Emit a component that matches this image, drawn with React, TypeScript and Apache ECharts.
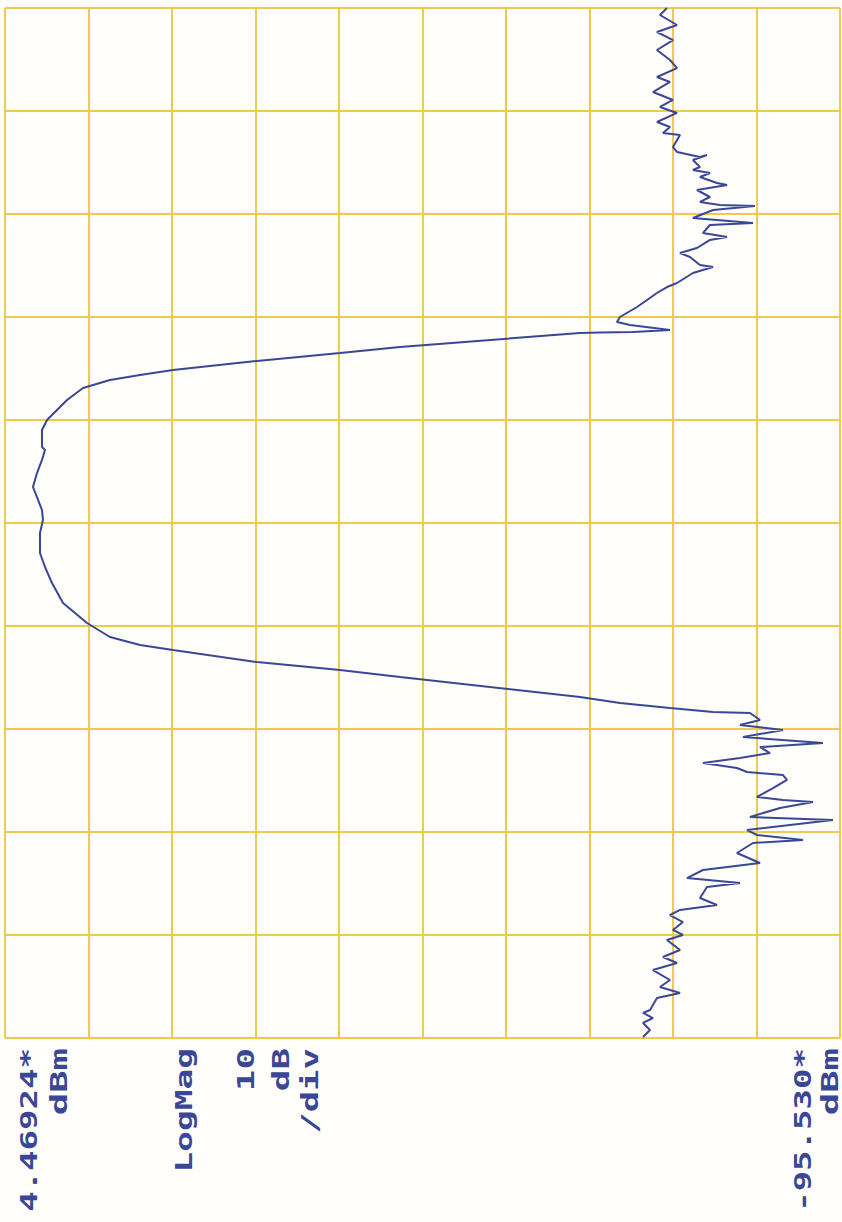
import React, { useEffect, useRef } from "react";
import * as echarts from "echarts";

// Reference level (left edge) and scale
const REF_DBM = 4.46924;
const DB_PER_DIV = 10;
const FREQ_DIVS = 10;

// Trace: frequency position in divisions (0 = bottom, 10 = top) and magnitude in dBm
const freqDiv = [
  10.0, 9.932, 9.835, 9.767, 9.689, 9.592, 9.495, 9.417, 9.33, 9.282, 9.184, 9.107, 9.039, 8.981, 8.893, 8.845,
  8.786, 8.767, 8.65, 8.602, 8.553, 8.573, 8.524, 8.456, 8.427, 8.398, 8.359, 8.301, 8.282, 8.233, 8.165, 8.117,
  8.087, 8.078, 8.039, 7.961, 7.913, 7.893, 7.816, 7.777, 7.748, 7.67, 7.621, 7.583, 7.505, 7.485, 7.427, 7.33,
  7.291, 7.233, 7.165, 7.097, 7.0, 6.951, 6.922, 6.874, 6.854, 6.85, 6.845, 6.709, 6.65, 6.573,
  6.485, 6.437, 6.388, 6.311, 6.194, 6.097, 6.0, 5.903, 5.738, 5.709, 5.612, 5.485, 5.35, 5.252, 5.126, 5.029,
  4.903, 4.709, 4.573, 4.417, 4.223, 4.029, 3.893, 3.816, 3.767,
  3.65, 3.573, 3.505, 3.311, 3.252, 3.204, 3.165, 3.155, 3.087, 3.039, 2.99, 2.922, 2.864, 2.825, 2.767, 2.718, 2.67,
  2.621, 2.583, 2.553, 2.505, 2.427, 2.34, 2.311, 2.291, 2.233, 2.146, 2.117, 2.019, 1.971, 1.922, 1.893, 1.796,
  1.699, 1.631, 1.553, 1.505, 1.466, 1.359, 1.291, 1.243, 1.194, 1.126, 1.049, 1.0, 0.951, 0.854, 0.786, 0.728,
  0.66, 0.563, 0.495, 0.437, 0.388, 0.272, 0.243, 0.194, 0.146, 0.078, 0.01,
];
const magDbm = [
  -74.81, -73.97, -76.01, -73.61, -75.53, -73.61, -75.17, -76.01, -73.61, -75.17, -73.13, -75.53, -73.97, -76.01, -73.61, -75.17,
  -74.33, -76.37, -75.53, -76.01, -78.76, -79.6, -77.92, -78.76, -77.92, -79.96, -78.76, -80.8, -82.0, -78.4, -79.96, -78.76,
  -81.16, -85.35, -80.32, -77.92, -85.11, -79.96, -79.12, -82.0, -79.96, -78.4, -76.37, -77.57, -78.76, -80.32, -77.92, -76.01,
  -74.81, -73.61, -72.42, -71.22, -69.18, -68.82, -70.38, -75.17, -70.74, -66.79, -64.39, -42.84, -35.65, -25.71,
  -15.65, -11.7, -8.1, -4.87, -2.96, -1.76, -0.56, 0.04, 0.04, -0.32, 0.04, 0.64, 1.12, 0.64, 0.04, -0.08,
  0.28, 0.28, -0.32, -1.16, -2.48, -5.35, -8.1, -11.7, -15.65,
  -25.71, -35.65, -42.84, -64.39, -69.18, -75.17, -80.32, -84.75, -85.95, -83.55, -88.7, -83.91, -93.49, -85.95, -87.15, -83.55, -79.12,
  -83.19, -84.39, -88.7, -89.18, -87.51, -85.59, -88.7, -92.3, -88.35, -84.75, -94.69, -84.39, -85.59, -91.1, -85.11, -83.19,
  -85.95, -79.12, -77.21, -83.55, -79.6, -78.76, -80.8, -76.37, -75.17, -76.72, -75.53, -76.72, -74.81, -76.37, -74.33, -76.01,
  -73.13, -75.17, -73.97, -76.37, -73.61, -72.78, -71.94, -73.13, -71.94, -72.78, -71.94,
];

// Annotation texts (plotter labels)
const refLabel = "4.46924*";
const bottomLabel = "-95.530*";
const unitLabel = "dBm";
const formatLabel = "LogMag";
const scaleLabels = ["10", "dB", "/div"];

const PEN = "#3a4796";
const GRID = "#eecb4e";

export default function App() {
  const ref = useRef<HTMLDivElement>(null);

  useEffect(() => {
    if (!ref.current) return;
    const chart = echarts.init(ref.current, null, { renderer: "svg" });
    const data = freqDiv.map((f, i) => [magDbm[i], f]);

    const label = (t: string, x: number, sx: number) => ({
      type: "text",
      x,
      y: 1048,
      rotation: Math.PI / 2,
      scaleX: sx,
      scaleY: 1,
      style: {
        text: t,
        fill: PEN,
        font: "bold 23px 'DejaVu Sans Mono'",
        align: "right",
        verticalAlign: "middle",
      },
    });

    chart.setOption({
      animation: false,
      backgroundColor: "#fffefa",
      grid: { left: 5, right: 2, top: 8, bottom: 184 },
      xAxis: {
        type: "value",
        inverse: true,
        min: REF_DBM - DB_PER_DIV * 10,
        max: REF_DBM,
        interval: DB_PER_DIV,
        axisLabel: { show: false },
        axisTick: { show: false },
        axisLine: { show: false },
        splitLine: { show: true, lineStyle: { color: GRID, width: 2 } },
      },
      yAxis: {
        type: "value",
        min: 0,
        max: FREQ_DIVS,
        interval: 1,
        axisLabel: { show: false },
        axisTick: { show: false },
        axisLine: { show: false },
        splitLine: { show: true, lineStyle: { color: GRID, width: 2 } },
      },
      series: [
        {
          type: "line",
          data,
          showSymbol: false,
          symbol: "none",
          lineStyle: { color: PEN, width: 2 },
          silent: true,
        },
      ],
      graphic: [
        label(refLabel, 29, 1.48),
        label(unitLabel, 59, 1.62),
        label(formatLabel, 184, 1.5),
        label(scaleLabels[0], 246, 1.56),
        label(scaleLabels[1], 281, 1.56),
        label(scaleLabels[2], 310, 1.55),
        label(bottomLabel, 803, 1.48),
        label(unitLabel, 830, 1.62),
      ],
    });
    return () => chart.dispose();
  }, []);

  return (
    <div
      ref={ref}
      style={{ position: "absolute", left: 0, top: 0, width: 842, height: 1222, background: "#ffffff" }}
    />
  );
}
